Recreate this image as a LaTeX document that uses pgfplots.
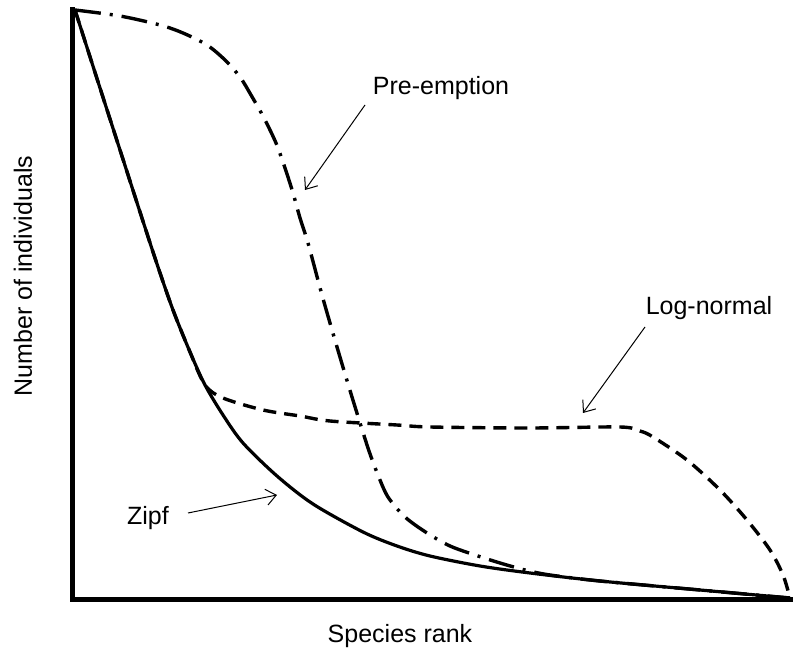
\documentclass[border=0pt]{standalone}
\usepackage{fontspec}
\setmainfont{Liberation Sans}
\usepackage{pgfplots}
\pgfplotsset{compat=1.18}
\usetikzlibrary{arrows.meta}
\begin{document}
\fontsize{12.5}{15}\selectfont
\begin{tikzpicture}[x=1pt,y=1pt]
\useasboundingbox (0,0) rectangle (397,327);
\begin{axis}[
  at={(36pt,27pt)}, anchor=south west,
  scale only axis, width=359pt, height=295pt,
  xmin=0, xmax=718, ymin=0, ymax=590,
  axis x line=bottom, axis y line=left,
  axis line style={-, line width=2.5pt, line cap=rect},
  xtick=\empty, ytick=\empty,
  clip=false,
]
% Zipf
\addplot[black, line width=1.6pt, smooth, tension=0.5] coordinates {
(3,590) (28,512) (48,450) (68,388) (85,336) (101,290) (118,248) (133,215)
(151,185) (171,157) (205,124) (241,96) (291,68) (325,54) (358,44) (408,34)
(458,27) (528,19) (628,10) (718,2)};
% Log-normal
\addplot[black, line width=1.7pt, smooth, tension=0.5, dash pattern=on 6.5pt off 4pt] coordinates {
(3,590) (28,512) (48,450) (68,388) (85,336) (101,290) (118,248) (133,215)
(151,202) (191,190) (228,184) (258,179) (325,175) (358,173) (458,172) (548,173)
(568,169) (581,163) (615,140) (648,110) (675,80) (698,50) (711,25) (718,2)};
% Pre-emption
\addplot[black, line width=1.7pt, smooth, tension=0.5, dash pattern=on 13pt off 4.5pt on 1.5pt off 4.5pt] coordinates {
(3,590) (48,584) (88,575) (111,567) (135,555) (153,540) (168,523) (179,505)
(192,482) (204,457) (213,432) (221,407) (228,382) (236,357) (250,305) (265,253)
(280,203) (296,152) (306,125) (316,103) (333,83) (355,67) (378,54) (403,45)
(428,37) (453,30) (478,25) (528,19) (628,10) (718,2)};
% labels
\node[anchor=base] at (axis cs:369,505) {Pre-emption};
\node[anchor=base] at (axis cs:637,285) {Log-normal};
\node[anchor=base] at (axis cs:76,75) {Zipf};
\node[anchor=base] at (axis cs:328,-43) {Species rank};
\node[anchor=base, rotate=90] at (axis cs:-40,324) {Number of individuals};
% arrows
\draw[line width=0.5pt, -{Straight Barb[length=5pt,width=8pt]}] (axis cs:293,495) -- (axis cs:233,410);
\draw[line width=0.5pt, -{Straight Barb[length=5pt,width=8pt]}] (axis cs:573,273) -- (axis cs:511,187);
\draw[line width=0.5pt, -{Straight Barb[length=5pt,width=8pt]}] (axis cs:116,87) -- (axis cs:205,105);
\end{axis}
\end{tikzpicture}
\end{document}
